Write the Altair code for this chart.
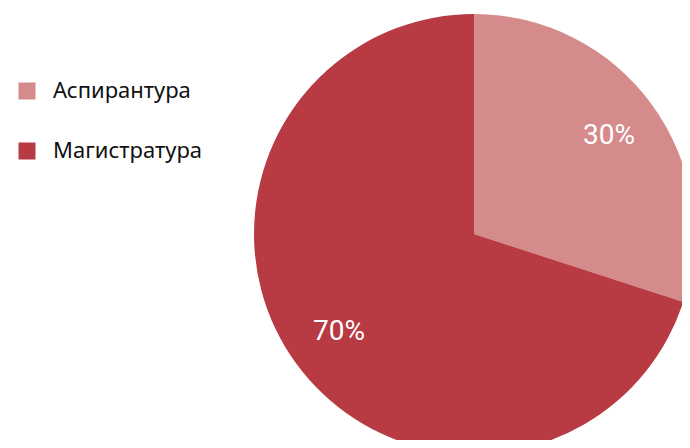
import altair as alt
import pandas as pd

categories = ["Аспирантура", "Магистратура"]
shares = [30, 70]
labels = ["30%", "70%"]
colors = ["#D58B8B", "#B83A42"]
order = [0, 1]

df = pd.DataFrame({"cat": categories, "share": shares, "label": labels, "order": order})

base = alt.Chart(df).encode(
    theta=alt.Theta("share:Q", stack=True),
    order=alt.Order("order:Q"),
    x=alt.value(466),
    y=alt.value(226),
)

pie = base.mark_arc(outerRadius=220).encode(
    color=alt.Color(
        "cat:N",
        scale=alt.Scale(domain=categories, range=colors),
        legend=alt.Legend(
            title=None,
            orient="none",
            legendX=8,
            legendY=72,
            symbolType="square",
            symbolSize=289,
            symbolStrokeWidth=0,
            labelFontSize=22,
            labelFont="Noto Sans",
            labelColor="#111111",
            rowPadding=38,
            labelOffset=15,
            padding=0,
        ),
    )
)

text = base.mark_text(radius=167, font="Roboto", fontSize=28, color="white").encode(
    text="label:N"
)

chart = (pie + text).properties(
    width=674,
    height=432,
    autosize=alt.AutoSizeParams(type="none"),
    padding=0,
).configure_view(stroke=None)

chart.save("out.html", embed_options={"renderer": "svg", "actions": False})
